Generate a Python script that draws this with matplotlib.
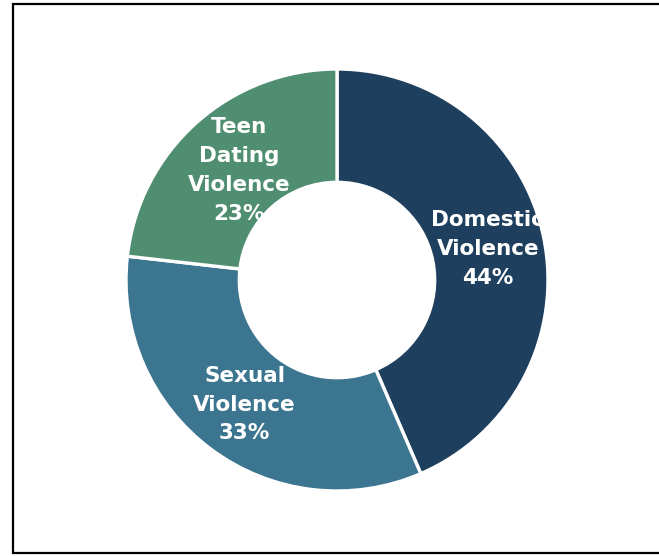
import numpy as np
import matplotlib.pyplot as plt

# --- data -------------------------------------------------------------
categories = ["Domestic\nViolence", "Sexual\nViolence", "Teen\nDating\nViolence"]
shares = [43.5, 33.3, 23.2]          # slice sizes as drawn
pct_labels = ["44%", "33%", "23%"]   # labels as printed
colors = ["#1F3F5E", "#3B758F", "#4F8E71"]

W, H = 659, 556
fig = plt.figure(figsize=(W / 100, H / 100), dpi=100)

# frame around the chart area (no right edge, as in the original)
frame = fig.add_axes([0, 0, 1, 1])
frame.set_xlim(0, W)
frame.set_ylim(H, 0)
frame.axis("off")
frame.plot([658.5, 13, 13, 658.5], [4, 4, 553, 553], color="black", lw=1.6,
           solid_joinstyle="miter")

# donut centred at (337, 280) px with radius 211 px
cx, cy, r = 337, 280, 211
ax = fig.add_axes([(cx - r) / W, (H - cy - r) / H, 2 * r / W, 2 * r / H])
wedges, _ = ax.pie(
    shares,
    colors=colors,
    startangle=90,
    counterclock=False,
    radius=1.0,
    wedgeprops=dict(width=0.537, edgecolor="white", linewidth=2.4),
)
ax.set_xlim(-1, 1)
ax.set_ylim(-1, 1)
ax.set_aspect("equal")
ax.axis("off")

# labels inside the ring, clipped to their wedge
label_r = [0.73, 0.735, 0.695]
for w, name, pct, lr in zip(wedges, categories, pct_labels, label_r):
    mid = np.deg2rad((w.theta1 + w.theta2) / 2)
    t = ax.text(lr * np.cos(mid), lr * np.sin(mid), f"{name}\n{pct}",
                ha="center", va="center", color="white", fontsize=15.5,
                fontweight="bold", family="DejaVu Sans", linespacing=1.55)
    t.set_clip_path(w)

fig.savefig("out.png", dpi=100)
